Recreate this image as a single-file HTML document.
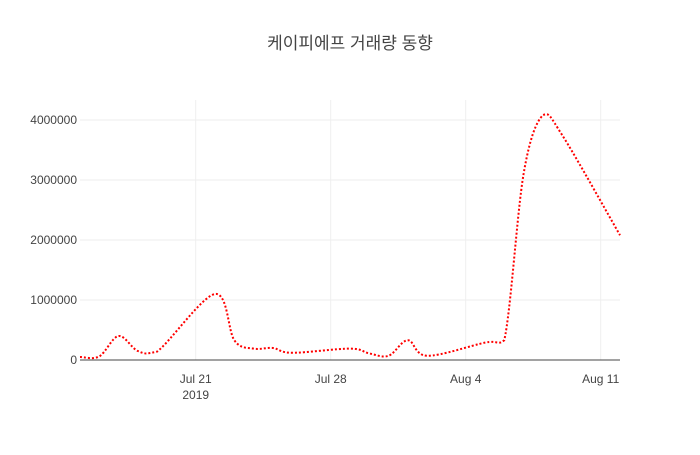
<!DOCTYPE html>
<html><head><meta charset="utf-8"><style>
body{margin:0;background:#fff}
svg text{font-family:"Liberation Sans","Noto Sans CJK KR",sans-serif;fill:#444}
</style></head><body>
<svg id="chart" width="700" height="450" xmlns="http://www.w3.org/2000/svg">
<rect width="700" height="450" fill="#fff"/>
<text x="350" y="49" text-anchor="middle" font-size="17">케이피에프 거래량 동향</text>
<g id="grid"></g>
<g id="yticks"></g>
<g id="xticks"></g>
<path id="line" fill="none" stroke="#ff0000" stroke-width="2" stroke-dasharray="2,2"/>
</svg>
<script>
const dates=["2019-07-15","2019-07-16","2019-07-17","2019-07-18","2019-07-19","2019-07-22","2019-07-23","2019-07-24","2019-07-25","2019-07-26","2019-07-29","2019-07-30","2019-07-31","2019-08-01","2019-08-02","2019-08-05","2019-08-06","2019-08-07","2019-08-08","2019-08-09","2019-08-12"];
const volumes=[50000,60000,400000,150000,140000,1100000,330000,190000,200000,120000,190000,110000,70000,330000,70000,290000,330000,3100000,4080000,3750000,2080000];
const yTicks=[0,1000000,2000000,3000000,4000000];
const xTickDates=["2019-07-21","2019-07-28","2019-08-04","2019-08-11"];
const xTickLabels=["Jul 21","Jul 28","Aug 4","Aug 11"];

const L=80,R=620,T=100,B=360;
const d0=Date.parse("2019-07-15"),d1=Date.parse("2019-08-12");
const xs=d=>L+(Date.parse(d)-d0)/(d1-d0)*(R-L);
const ys=v=>B-v/4000000*240;
const NS="http://www.w3.org/2000/svg";
function mk(t,a,p){const e=document.createElementNS(NS,t);for(const k in a)e.setAttribute(k,a[k]);p.appendChild(e);return e;}
const grid=document.getElementById('grid'),yt=document.getElementById('yticks'),xt=document.getElementById('xticks');
yTicks.forEach(v=>{
  if(v>0){const g=mk('line',{x1:L,x2:R,y1:ys(v),y2:ys(v),stroke:'#eee','stroke-width':1},grid);
  
  }
  const t=mk('text',{x:L-3,y:ys(v)+4,'text-anchor':'end','font-size':12},yt);t.textContent=v;
  
  
});
xTickDates.forEach((d,i)=>{
  const g=mk('line',{x1:xs(d),x2:xs(d),y1:T,y2:B,stroke:'#eee','stroke-width':1},grid);
  
  
  const t=mk('text',{x:xs(d),y:B+23,'text-anchor':'middle','font-size':12},xt);t.textContent=xTickLabels[i];
  
  
});
const yr=mk('text',{x:xs(xTickDates[0]),y:B+39,'text-anchor':'middle','font-size':12},xt);yr.textContent="2019";


const ax=mk('line',{x1:L,x2:R,y1:B,y2:B,stroke:'#444','stroke-width':1},xt);


const P=dates.map((d,i)=>[xs(d),ys(volumes[i])]);
const clamp=(v,a,b)=>Math.max(Math.min(a,b)-3,Math.min(Math.max(a,b)+3,v));
let s="M"+P[0][0]+","+P[0][1];
for(let i=0;i<P.length-1;i++){
  const p0=P[Math.max(0,i-1)],p1=P[i],p2=P[i+1],p3=P[Math.min(P.length-1,i+2)];
  const c1=[p1[0]+(p2[0]-p0[0])/6,clamp(p1[1]+(p2[1]-p0[1])/6,p1[1],p2[1])];
  const c2=[p2[0]-(p3[0]-p1[0])/6,clamp(p2[1]-(p3[1]-p1[1])/6,p1[1],p2[1])];
  s+=` C${c1[0]},${c1[1]} ${c2[0]},${c2[1]} ${p2[0]},${p2[1]}`;
}
document.getElementById('line').setAttribute('d',s);
</script>
</body></html>
